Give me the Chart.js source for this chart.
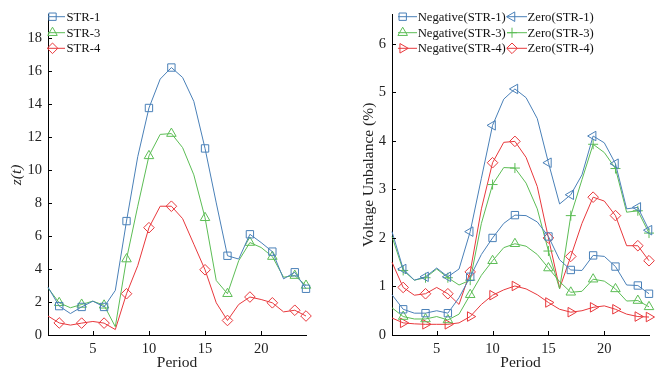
<!DOCTYPE html>
<html><head><meta charset="utf-8">
<script src="https://cdn.jsdelivr.net/npm/chart.js@4"></script>
<style>
html,body{margin:0;padding:0;background:#fff;}
#wrap{position:relative;width:668px;height:373px;overflow:hidden;}
canvas{position:absolute;top:0;}
</style></head>
<body><div id="wrap"><canvas id="c1" width="334" height="373" style="left:0"></canvas><canvas id="c2" width="334" height="373" style="left:334px"></canvas></div>
<script>
// ---- data ----
const periods = [1,2,3,4,5,6,7,8,9,10,11,12,13,14,15,16,17,18,19,20,21,22,23,24];
const markerPeriods = [2,4,6,8,10,12,15,17,19,21,23,24];
const xTicks = [5,10,15,20];
const yTicksLeft = [0,2,4,6,8,10,12,14,16,18];
const yTicksRight = [0,1,2,3,4,5,6];

const zStr1 = [2.9,1.75,1.3,1.7,2.05,1.7,2.7,6.9,10.8,13.75,15.5,16.2,15.6,14.15,11.3,8.0,4.8,4.6,6.1,5.6,5.05,3.4,3.8,2.8];
const zStr3 = [2.85,1.95,1.65,1.85,2.05,1.8,0.5,4.6,7.8,10.85,12.15,12.2,11.35,9.7,7.1,3.3,2.5,4.5,5.6,5.3,4.75,3.5,3.6,3.0];
const zStr4 = [1.15,0.73,0.6,0.72,0.82,0.72,0.33,2.5,4.2,6.5,7.8,7.8,7.05,5.5,3.95,1.95,0.88,1.85,2.3,2.15,1.95,1.4,1.5,1.15];

const negStr1 = [0.83,0.53,0.45,0.45,0.5,0.45,0.77,1.2,1.66,2.0,2.3,2.47,2.46,2.33,2.03,1.55,1.34,1.33,1.64,1.62,1.41,1.03,1.02,0.85];
const negStr3 = [0.56,0.38,0.33,0.33,0.38,0.31,0.43,0.83,1.23,1.53,1.8,1.88,1.83,1.66,1.38,1.1,0.88,0.9,1.15,1.11,0.95,0.7,0.71,0.58];
const negStr4 = [0.35,0.25,0.23,0.22,0.22,0.22,0.25,0.38,0.63,0.82,0.93,1.01,0.95,0.83,0.67,0.53,0.47,0.5,0.57,0.6,0.53,0.43,0.38,0.37];
const zeroStr1 = [2.13,1.36,1.13,1.2,1.38,1.2,1.36,2.13,3.23,4.32,4.86,5.07,4.89,4.46,3.55,2.7,2.89,3.3,4.1,3.96,3.53,2.6,2.63,2.16];
const zeroStr3 = [2.03,1.33,1.13,1.18,1.36,1.18,1.03,1.13,2.3,3.1,3.45,3.44,3.13,2.6,1.73,0.95,2.46,3.2,3.93,3.76,3.43,2.53,2.56,2.1];
const zeroStr4 = [1.5,0.98,0.82,0.85,0.98,0.85,0.63,1.3,2.6,3.55,3.97,3.99,3.66,3.06,2.0,0.96,1.62,2.3,2.84,2.76,2.46,1.84,1.84,1.53];

// ---- style ----
const BLUE = '#4a80b8', GREEN = '#5cbd55', RED = '#e8383c';
const FAMILY = "'Liberation Serif','Times New Roman',serif";
Chart.defaults.font.family = FAMILY;
Chart.defaults.color = '#222';

function pts(arr){ return periods.map((p,i)=>({x:p,y:arr[i]})); }
function ds(label, arr, color, style, rot, r){
  return {
    label, data: pts(arr), borderColor: color, backgroundColor: color,
    borderWidth: 1, tension: 0, clip: 12,
    pointStyle: style, pointRotation: rot || 0,
    pointRadius: c => markerPeriods.includes(periods[c.dataIndex]) ? (r||5) : 0,
    pointHoverRadius: 0,
    pointBorderColor: color, pointBackgroundColor: 'rgba(0,0,0,0)', pointBorderWidth: 1
  };
}

function drawMarker(ctx, style, rot, r, x, y, color){
  ctx.save();
  ctx.strokeStyle = color; ctx.lineWidth = 1; ctx.fillStyle='rgba(0,0,0,0)';
  if (Chart.helpers && Chart.helpers.drawPoint) {
    Chart.helpers.drawPoint(ctx, {pointStyle: style, rotation: rot, radius: r, borderWidth: 1}, x, y);
  }
  ctx.restore();
}

const legendPlugin = {
  id: 'customLegend',
  afterDraw(chart, args, opts){
    if (!opts.items) return;
    const ctx = chart.ctx;
    ctx.save();
    ctx.font = '12.7px ' + FAMILY;
    ctx.textBaseline = 'middle';
    ctx.textAlign = 'left';
    opts.items.forEach(it => {
      const d = chart.data.datasets[it.ds];
      ctx.strokeStyle = d.borderColor; ctx.lineWidth = 1;
      ctx.beginPath(); ctx.moveTo(it.l0, it.y); ctx.lineTo(it.l1, it.y); ctx.stroke();
      drawMarker(ctx, d.pointStyle, d.pointRotation, it.r || 5, it.mx, it.y, d.borderColor);
      ctx.fillStyle = '#111';
      ctx.fillText(d.label, it.tx, it.y + 0.5);
    });
    ctx.restore();
  }
};

const inwardTicks = {
  id: 'inwardTicks',
  afterDraw(chart){
    const ctx = chart.ctx, a = chart.chartArea;
    const xs = chart.scales.x, ys = chart.scales.y;
    ctx.save(); ctx.strokeStyle = '#000'; ctx.lineWidth = 1;
    ctx.beginPath();
    xs.ticks.forEach(t => { const px = Math.round(xs.getPixelForValue(t.value)) + 0.5; ctx.moveTo(px, a.bottom); ctx.lineTo(px, a.bottom - 4); });
    ys.ticks.forEach(t => { const py = Math.round(ys.getPixelForValue(t.value)) + 0.5; ctx.moveTo(a.left, py); ctx.lineTo(a.left + 4, py); });
    ctx.stroke(); ctx.restore();
  }
};

function makeOptions(cfg){
  return {
    responsive: false, animation: false, events: [],
    layout: {padding: {top: 5, left: 0, right: cfg.padRight, bottom: 0}},
    plugins: {legend: {display: false}, title: {display: false}, tooltip: {enabled: false},
      customLegend: {items: cfg.legend}},
    scales: {
      x: {type: 'linear', min: 1, max: 24,
        afterBuildTicks: s => { s.ticks = xTicks.map(v => ({value: v})); },
        afterFit: s => { s.height = 38; },
        grid: {display: false, drawTicks: false},
        border: {display: true, color: '#000', width: 1},
        ticks: {font: {size: 14.5}, padding: 5, color: '#222', maxRotation: 0},
        title: {display: true, text: 'Period', font: {size: 15.5}, color: '#222', padding: {top: 0, bottom: 1}}
      },
      y: {min: 0, max: cfg.yMax,
        afterBuildTicks: s => { s.ticks = cfg.yTicks.map(v => ({value: v})); },
        afterFit: s => { s.width = cfg.yWidth; },
        grid: {display: false, drawTicks: false},
        border: {display: true, color: '#000', width: 1},
        ticks: {font: {size: 14.5}, padding: 6, color: '#222'},
        title: {display: true, text: cfg.yTitle, font: {size: 15.5, style: cfg.yStyle || 'normal'}, color: '#222', padding: {top: cfg.yTitlePad, bottom: 0}}
      }
    }
  };
}

new Chart(document.getElementById('c1'), {
  type: 'line',
  data: {datasets: [
    ds('STR-1', zStr1, BLUE, 'rect', 0, 5.2),
    ds('STR-3', zStr3, GREEN, 'triangle', 0, 5.5),
    ds('STR-4', zStr4, RED, 'rectRot', 0, 5.3)
  ]},
  options: makeOptions({padRight: 28, yMax: 19.4, yTicks: yTicksLeft, yWidth: 48, yTitle: 'z(t)', yStyle: 'italic', yTitlePad: 7.7,
    legend: [
      {ds: 0, l0: 48, l1: 65, mx: 52.5, tx: 66.5, y: 16.7, r: 5.2},
      {ds: 1, l0: 48, l1: 65, mx: 52.5, tx: 66.5, y: 32.7, r: 5.5},
      {ds: 2, l0: 48, l1: 65, mx: 52.5, tx: 66.5, y: 48.3, r: 5.3}
    ]}),
  plugins: [legendPlugin, inwardTicks]
});

new Chart(document.getElementById('c2'), {
  type: 'line',
  data: {datasets: [
    ds('Negative(STR-1)', negStr1, BLUE, 'rect', 0, 5.2),
    ds('Negative(STR-3)', negStr3, GREEN, 'triangle', 0, 5.5),
    ds('Negative(STR-4)', negStr4, RED, 'triangle', 90, 5.5),
    ds('Zero(STR-1)', zeroStr1, BLUE, 'triangle', -90, 5.5),
    ds('Zero(STR-3)', zeroStr3, GREEN, 'cross', 0, 5),
    ds('Zero(STR-4)', zeroStr4, RED, 'rectRot', 0, 5.3)
  ]},
  options: makeOptions({padRight: 19, yMax: 6.6, yTicks: yTicksRight, yWidth: 58, yTitle: 'Voltage Unbalance (%)', yTitlePad: 26,
    legend: [
      {ds: 0, l0: 64, l1: 83, mx: 68.7, tx: 83.7, y: 16.7, r: 5.2},
      {ds: 1, l0: 64, l1: 83, mx: 68.7, tx: 83.7, y: 32.7, r: 5.5},
      {ds: 2, l0: 64, l1: 83, mx: 68.7, tx: 83.7, y: 48.3, r: 5.5},
      {ds: 3, l0: 173, l1: 193, mx: 178, tx: 193.5, y: 16.7, r: 5.5},
      {ds: 4, l0: 173, l1: 193, mx: 178, tx: 193.5, y: 32.7, r: 5},
      {ds: 5, l0: 173, l1: 193, mx: 178, tx: 193.5, y: 48.3, r: 5.3}
    ]}),
  plugins: [legendPlugin, inwardTicks]
});
</script>
</body></html>
